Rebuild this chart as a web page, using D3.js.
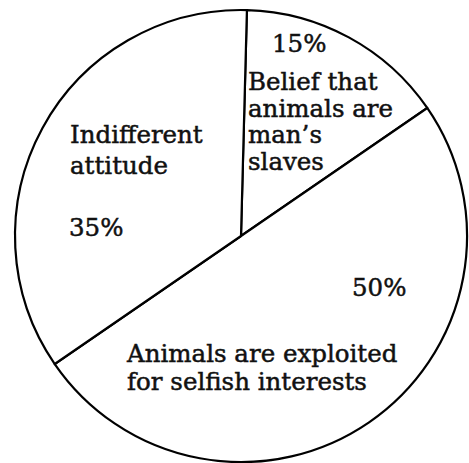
<!DOCTYPE html>
<html>
<head>
  <script src="https://d3js.org/d3.v7.min.js"></script>
  <style>
    body { margin: 0; background: #fff; }
    text {
      font-family: "DejaVu Serif", "Liberation Serif", serif;
      fill: #111;
      stroke: #111;
      stroke-width: 0.5px;
    }
  </style>
</head>
<body>
  <script>
    // Data
    const categories = ["Belief that animals are man's slaves", "Animals are exploited for selfish interests", "Indifferent attitude"];
    const shares = [15, 50, 35];
    const labelLines = [
      ["Belief that", "animals are", "man\u2019s", "slaves"],
      ["Animals are exploited", "for selfish interests"],
      ["Indifferent", "attitude"]
    ];

    const width = 469, height = 463;
    const cx = 241, cy = 236, radius = 226;

    // Where the texts sit, relative to the circle centre
    const labelPos = [
      {pct: [31, -184], name: [7, -146], lh: 26.7},
      {pct: [111, 60], name: [-114, 126], lh: 28},
      {pct: [-172, 0], name: [-171, -93], lh: 31}
    ];

    const svg = d3.select("body")
      .append("svg")
        .attr("width", width)
        .attr("height", height);

    const g = svg.append("g")
      .attr("transform", `translate(${cx},${cy})`);

    // Slices start just right of 12 o'clock, clockwise
    const start = 1.5 * Math.PI / 180;
    const pie = d3.pie()
      .sort(null)
      .startAngle(start)
      .endAngle(start + 2 * Math.PI);

    const arc = d3.arc()
      .innerRadius(0)
      .outerRadius(radius);

    const arcs = pie(shares);

    g.selectAll("path")
      .data(arcs)
      .join("path")
        .attr("d", arc)
        .attr("fill", "#fff")
        .attr("stroke", "#000")
        .attr("stroke-width", 2.2)
        .attr("stroke-linejoin", "round");

    const fs = 24.5;

    arcs.forEach((d, i) => {
      const p = labelPos[i];

      g.append("text")
        .attr("x", p.pct[0])
        .attr("y", p.pct[1])
        .attr("font-size", fs)
        .text(shares[i] + "%");

      const t = g.append("text")
        .attr("x", p.name[0])
        .attr("y", p.name[1])
        .attr("font-size", fs);

      labelLines[i].forEach((line, j) => {
        t.append("tspan")
          .attr("x", p.name[0])
          .attr("dy", j === 0 ? 0 : p.lh)
          .text(line);
      });
    });
  </script>
</body>
</html>
